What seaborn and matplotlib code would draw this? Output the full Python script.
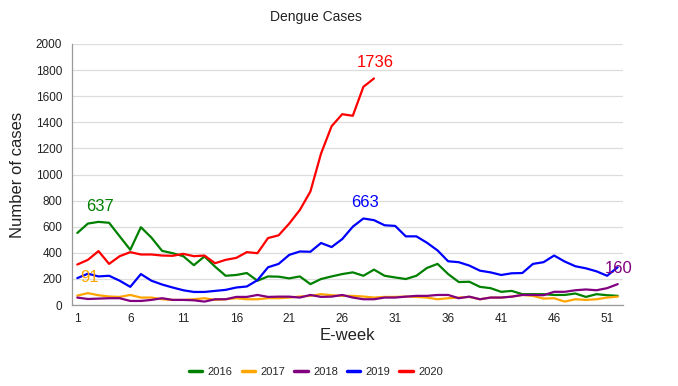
import matplotlib
matplotlib.use("Agg")
import matplotlib.pyplot as plt
import numpy as np
import pandas as pd
import seaborn as sns

# weekly dengue cases per year (E-week 1..52)
weeks = list(range(1, 53))
cases_2016 = [552, 624, 637, 630, 526, 423, 596, 516, 415, 397, 374, 305,
              372, 294, 224, 230, 245, 186, 219, 217, 204, 219, 160, 199,
              219, 237, 250, 224, 271, 224, 211, 199, 224, 284, 315, 237,
              176, 178, 139, 129, 101, 108, 83, 83, 83, 77, 77, 88,
              62, 83, 75, 70]
cases_2017 = [72, 91, 75, 65, 62, 77, 57, 57, 44, 39, 39, 44,
              52, 39, 44, 52, 44, 44, 52, 52, 57, 65, 70, 83,
              75, 70, 70, 65, 57, 62, 62, 65, 62, 57, 44, 52,
              57, 62, 44, 57, 57, 64, 77, 70, 49, 52, 26, 44,
              39, 44, 57, 64]
cases_2018 = [57, 46, 49, 52, 52, 31, 31, 39, 52, 39, 39, 36,
              26, 44, 44, 62, 62, 77, 62, 64, 64, 57, 77, 62,
              64, 77, 57, 44, 44, 57, 57, 64, 70, 70, 77, 77,
              52, 64, 44, 57, 57, 64, 77, 77, 75, 101, 101, 113,
              119, 113, 129, 160]
cases_2019 = [206, 240, 219, 224, 186, 139, 237, 186, 157, 134, 113, 100,
              100, 108, 116, 134, 142, 190, 289, 315, 384, 410, 408, 475,
              444, 505, 600, 663, 650, 611, 606, 526, 526, 477, 418, 335,
              328, 302, 263, 250, 230, 243, 245, 315, 328, 379, 333, 297,
              281, 258, 224, 289]
cases_2020 = [310, 346, 413, 315, 374, 405, 387, 387, 379, 377, 392, 374,
              379, 320, 346, 361, 405, 397, 513, 534, 624, 728, 870, 1160,
              1370, 1462, 1450, 1672, 1736]

years = ["2016", "2017", "2018", "2019", "2020"]
series = [cases_2016, cases_2017, cases_2018, cases_2019, cases_2020]
colors = ["#008000", "#ffa500", "#800080", "#0000ff", "#ff0000"]
x_tick_labels = [1, 6, 11, 16, 21, 26, 31, 36, 41, 46, 51]
y_ticks = list(range(0, 2001, 200))

rows = []
for yr, vals in zip(years, series):
    for w, v in zip(weeks, vals):
        rows.append({"week": w, "cases": v, "year": yr})
df = pd.DataFrame(rows)

sns.set_style("white")
plt.rcParams["font.family"] = ["Liberation Sans", "DejaVu Sans"]

fig = plt.figure(figsize=(6.78, 3.86), dpi=100)
ax = fig.add_axes([72 / 678, 1 - 305 / 386, 551 / 678, 261 / 386])

sns.lineplot(data=df, x="week", y="cases", hue="year", hue_order=years,
             palette=colors, linewidth=1.6, ax=ax, legend=True)

# peak labels, one per year
for yr, vals, c in zip(years, series, colors):
    i = int(np.argmax(vals))
    ax.annotate(str(vals[i]), (weeks[i], vals[i]), xytext=(1, 6),
                textcoords="offset points", ha="center", va="bottom",
                color=c, fontsize=12)

ax.set_xlim(0.5, 52.5)
ax.set_ylim(0, 2000)
ax.set_xticks(x_tick_labels)
ax.set_xticklabels([str(t) for t in x_tick_labels], fontsize=8.5, color="#222222")
ax.set_xticks(np.arange(0.5, 53, 1), minor=True)
ax.tick_params(axis="x", which="major", length=0, pad=6)
ax.tick_params(axis="x", which="minor", length=4, color="#999999", width=0.8)
ax.set_yticks(y_ticks)
ax.set_yticklabels([str(t) for t in y_ticks], fontsize=8.5, color="#222222")
ax.tick_params(axis="y", length=4, color="#999999", width=0.8, pad=3)

ax.grid(axis="y", color="#dddddd", linewidth=0.9)
ax.set_axisbelow(True)
sns.despine(ax=ax)
for side in ("left", "bottom"):
    ax.spines[side].set_color("#999999")
    ax.spines[side].set_linewidth(0.9)

ax.set_xlabel("E-week", fontsize=12, color="#222222", labelpad=2)
ax.set_ylabel("Number of cases", fontsize=12, color="#222222", labelpad=8)
fig.text(316 / 678, 1 - 17 / 386, "Dengue Cases", ha="center", va="center",
         fontsize=10, color="#222222")

handles, labels = ax.get_legend_handles_labels()
ax.get_legend().remove()
for h in handles:
    h.set_linewidth(2.5)
fig.legend(handles, labels, loc="center", bbox_to_anchor=(316 / 678, 1 - 372 / 386),
           ncol=5, frameon=False, fontsize=8, handlelength=1.2,
           columnspacing=0.8, handletextpad=0.5)

fig.savefig("out.png", dpi=100)
